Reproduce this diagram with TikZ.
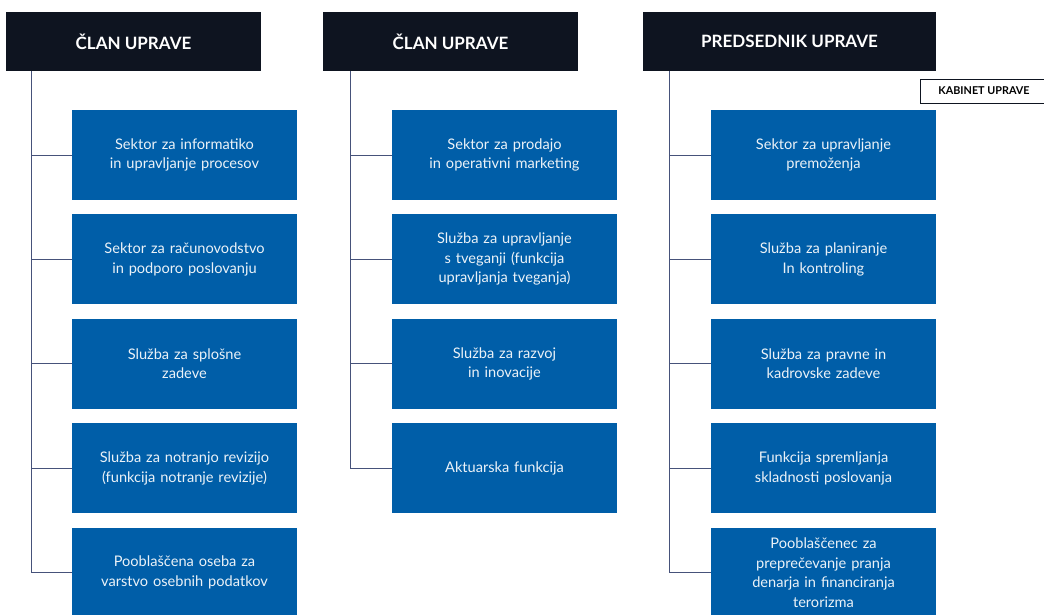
\documentclass[tikz,border=0pt]{standalone}
\usepackage{fontspec}
\setmainfont{Lato}
\usetikzlibrary{calc,positioning}

\definecolor{navy}{HTML}{0E1420}
\definecolor{boxblue}{HTML}{005EA8}
\definecolor{link}{HTML}{46527A}

\begin{document}
\begin{tikzpicture}[x=1pt, y=-1pt, node distance=14pt,
    head/.style={fill=navy, text=white, minimum height=59pt, text depth=0pt,
      font=\fontsize{17}{20}\selectfont\bfseries},
    unit/.style={fill=boxblue, text=white!92!boxblue, minimum width=225pt, minimum height=90pt,
      text width=205pt, align=center, font=\fontsize{14.6}{19.5}\selectfont},
    link/.style={draw=link, line width=1pt}]
    \clip (0,0) rectangle (1044,614);
    \useasboundingbox (0,0) rectangle (1044,614);

    % headers
    \node[head, minimum width=255pt] (h1) at (133.5,41.5) {ČLAN UPRAVE};
    \node[head, minimum width=255pt] (h2) at (450.5,41.5) {ČLAN UPRAVE};
    \node[head, minimum width=293pt] (h3) at (789.5,41.5) {PREDSEDNIK UPRAVE};
    \node[draw=navy, line width=0.8pt, minimum width=128pt, minimum height=24pt,
      font=\fontsize{10.8}{12}\selectfont\bfseries] (kab) at (984,91) {KABINET UPRAVE};

    % first column
    \node[unit] (a1) at (184.5,155) {Sektor za informatiko\\in upravljanje procesov};
    \node[unit, below=of a1] (a2) {Sektor za računovodstvo\\in podporo poslovanju};
    \node[unit, below=of a2] (a3) {Služba za splošne\\zadeve};
    \node[unit, below=of a3] (a4) {Služba za notranjo revizijo\\(funkcija notranje revizije)};
    \node[unit, below=of a4] (a5) {Pooblaščena oseba za\\varstvo osebnih podatkov};

    % second column
    \node[unit] (b1) at (504.5,155) {Sektor za prodajo\\in operativni marketing};
    \node[unit, below=of b1] (b2) {Služba za upravljanje\\s tveganji (funkcija\\upravljanja tveganja)};
    \node[unit, below=of b2] (b3) {Služba za razvoj\\in inovacije};
    \node[unit, below=of b3] (b4) {Aktuarska funkcija};

    % third column
    \node[unit] (c1) at (823.5,155) {Sektor za upravljanje\\premoženja};
    \node[unit, below=of c1] (c2) {Služba za planiranje\\In kontroling};
    \node[unit, below=of c2] (c3) {Služba za pravne in\\kadrovske zadeve};
    \node[unit, below=of c3] (c4) {Funkcija spremljanja\\skladnosti poslovanja};
    \node[unit, below=of c4] (c5) {Pooblaščenec za\\preprečevanje pranja\\denarja in financiranja\\terorizma};

    % connectors
    \coordinate (t1) at ($(h1.south west)+(26,0)$);
    \coordinate (t2) at ($(h2.south west)+(28,0)$);
    \coordinate (t3) at ($(h3.south west)+(27,0)$);
    \draw[link] (t1) |- (a5.west);
    \draw[link] (t2) |- (b4.west);
    \draw[link] (t3) |- (c5.west);
    \foreach \n in {a1,a2,a3,a4}
      \draw[link] (t1 |- \n.west) -- (\n.west);
    \foreach \n in {b1,b2,b3}
      \draw[link] (t2 |- \n.west) -- (\n.west);
    \foreach \n in {c1,c2,c3,c4}
      \draw[link] (t3 |- \n.west) -- (\n.west);
\end{tikzpicture}
\end{document}
